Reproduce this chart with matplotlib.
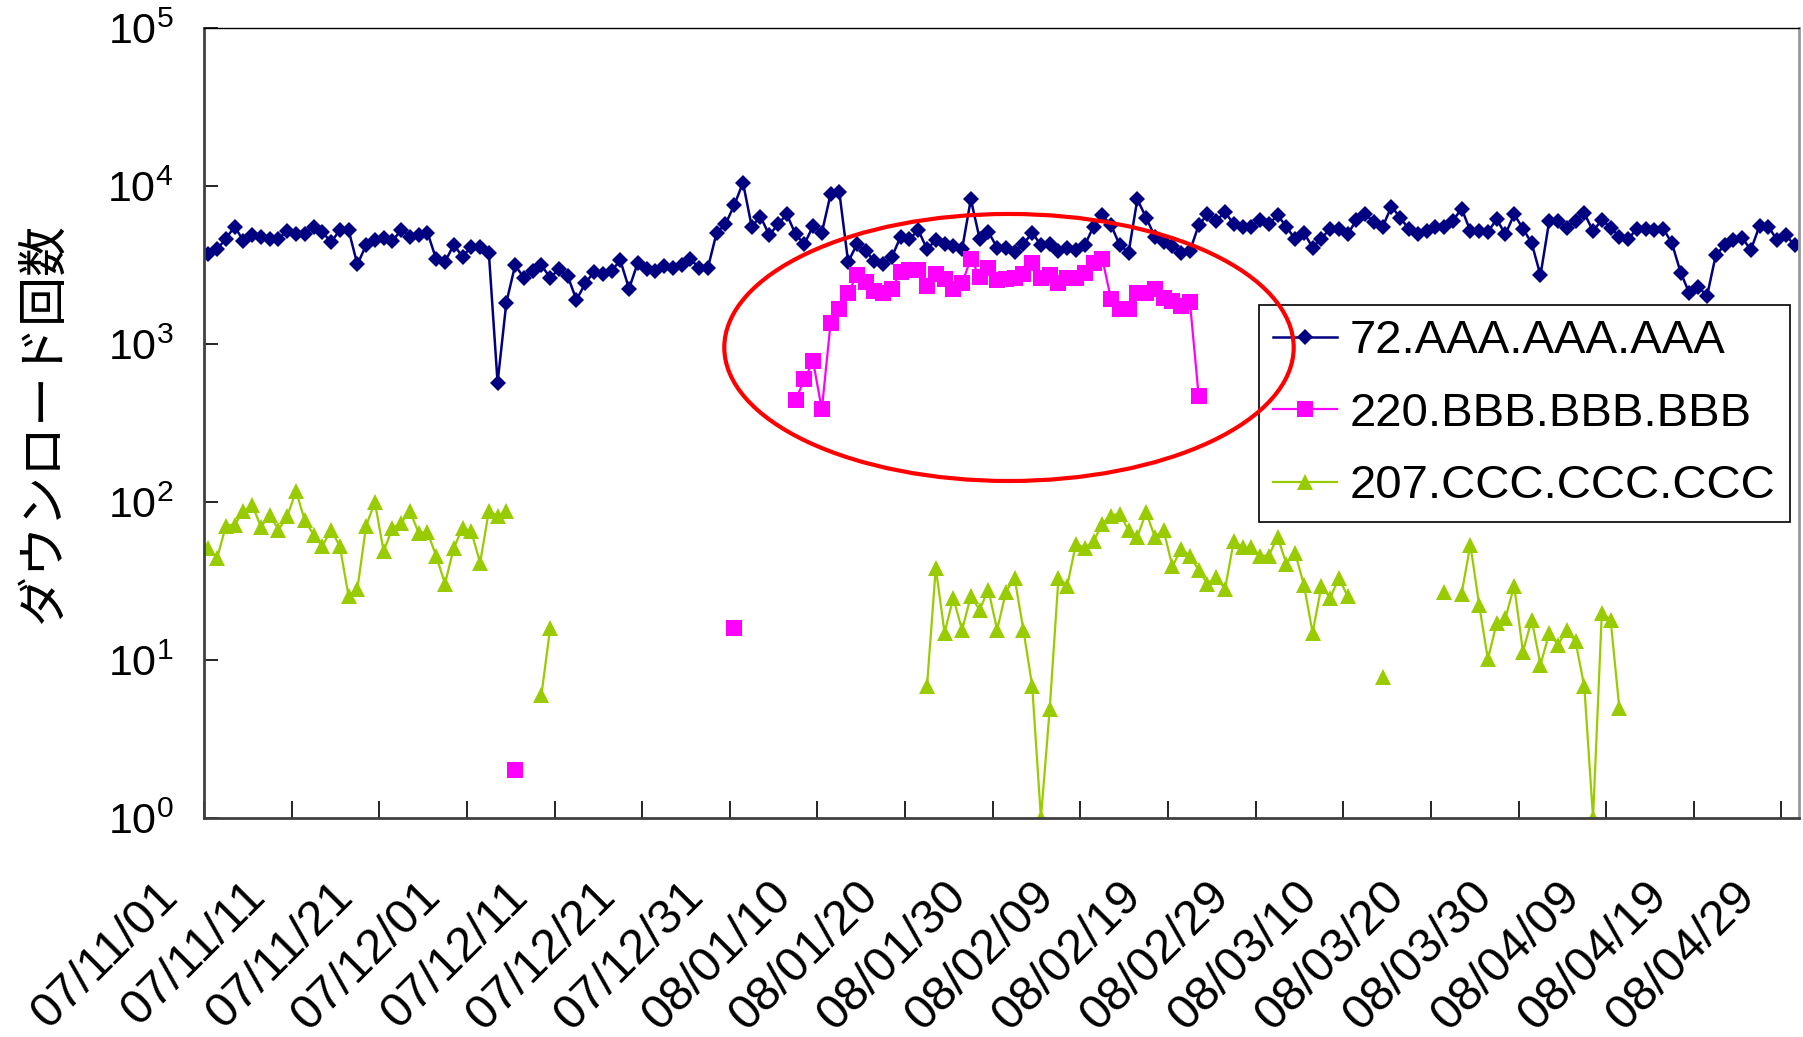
import numpy as np
import matplotlib
matplotlib.use('Agg')
import matplotlib.pyplot as plt
from matplotlib.patches import Ellipse
from matplotlib.ticker import NullLocator
from matplotlib.transforms import ScaledTranslation

plt.rcParams['font.family'] = ['Liberation Sans', 'Noto Sans CJK JP', 'DejaVu Sans']
plt.rcParams['mathtext.fontset'] = 'custom'
plt.rcParams['mathtext.rm'] = 'Liberation Sans'
plt.rcParams['mathtext.default'] = 'regular'

# one category per day, 07/11/01 .. 08/04/30
N_DAYS = 182
date_labels = ['07/11/01', '07/11/11', '07/11/21', '07/12/01', '07/12/11', '07/12/21',
               '07/12/31', '08/01/10', '08/01/20', '08/01/30', '08/02/09', '08/02/19',
               '08/02/29', '08/03/10', '08/03/20', '08/03/30', '08/04/09', '08/04/19',
               '08/04/29']

series_names = ['72.AAA.AAA.AAA', '220.BBB.BBB.BBB', '207.CCC.CCC.CCC']

# daily download counts, (first day index, values) per unbroken run
aaa_runs = [(0, [3700, 3980, 4650, 5540, 4490, 4880, 4790, 4650, 4650, 5190,
                 4950, 4950, 5540, 5120, 4420, 5250, 5250, 3190, 4220, 4550,
                 4720, 4490, 5270, 4790, 4880, 5070, 3440, 3320, 4240, 3570,
                 4130, 4130, 3790, 569, 1830, 3150, 2630, 2900, 3150, 2630,
                 2970, 2690, 1900, 2420, 2860, 2760, 2900, 3390, 2240, 3270,
                 2970, 2900, 3120, 3040, 3150, 3440, 3040, 3040, 5070, 5730,
                 7550, 10500, 5540, 6410, 4880, 5730, 6620, 4950, 4280, 5590,
                 5070, 8870, 9100, 3300, 4280, 3880, 3350, 3190, 3570, 4790,
                 4600, 5270, 3980, 4550, 4280, 4170, 3980, 8240, 4650, 5120,
                 4080, 4050, 3810, 4280, 5070, 4220, 4280, 3880, 4080, 3940,
                 4220, 5540, 6530, 5650, 4220, 3790, 8240, 6310, 4790, 4390,
                 4170, 3790, 3880, 5650, 6620, 6010, 6850, 5730, 5540, 5540,
                 6100, 5730, 6530, 5540, 4600, 5070, 4080, 4650, 5380, 5380,
                 4950, 6100, 6620, 5920, 5540, 7410, 6310, 5320, 4980, 5190,
                 5540, 5540, 6010, 7200, 5190, 5190, 5120, 6160, 4950, 6620,
                 5380, 4340, 2720, 6010, 6010, 5460, 6010, 6720, 5190, 6100,
                 5460, 4790, 4600, 5380, 5380, 5270, 5380, 4340, 2830, 2090,
                 2310, 2010, 3640, 4220, 4550, 4720, 3940, 5590, 5540, 4550,
                 4880, 4220])]

bbb_runs = [(35, [2]),
            (60, [16]),
            (67, [441, 597, 776, 385, 1365, 1675, 2110, 2720, 2470, 2160,
                  2110, 2240, 2860, 2940, 2940, 2330, 2760, 2570, 2220, 2420,
                  3470, 2670, 3040, 2540, 2560, 2600, 2760, 3270, 2630, 2720,
                  2440, 2630, 2630, 2830, 3270, 3470, 1920, 1675, 1675, 2090,
                  2090, 2240, 1965, 1870, 1740, 1840, 468])]

ccc_runs = [(0, [51.2, 44.2, 70.8, 71.9, 87.3, 96, 69.5, 83.2, 66.8, 81.1,
                 117, 76.6, 62.1, 52.4, 66.8, 52.4, 25.3, 28.1, 70.8, 99.6,
                 48.7, 68.5, 73.7, 87.3, 63.7, 64.6, 45.3, 30.4, 51.2, 68.5,
                 65.3, 41.1, 87.3, 82, 87.3]),
            (38, [6.0, 15.9]),
            (82, [6.87, 38.2, 14.9, 24.7, 15.5, 25.3, 20.8, 27.9, 15.5, 27,
                  33, 15.5, 6.87, 1, 4.89, 33, 29.5, 54.5, 51.2, 56.4,
                  72.9, 82, 84.4, 66.2, 60.1, 86.1, 60.1, 66.2, 39.1, 50.4,
                  45.7, 36.9, 30.4, 33.5, 28.1, 56.4, 51.9, 51.9, 45.7, 45.7,
                  60.1, 40.7, 47.6, 30.0, 14.9, 29.2, 24.7, 33, 25.3]),
            (134, [7.8]),
            (141, [26.8]),
            (143, [26.3, 53.7, 22.4, 10.1, 17.1, 18.4, 29.5, 11.3, 18.0, 9.33,
                   14.8, 12.5, 15.5, 13.1, 6.8, 1, 19.8, 18.0, 4.96])]


def expand(runs):
    # missing days stay NaN so the line breaks there
    arr = np.full(N_DAYS, np.nan)
    for start, vals in runs:
        arr[start:start + len(vals)] = vals
    return arr


def draw():
    fig = plt.figure(figsize=(18.03, 10.37), dpi=100)
    ax = fig.add_axes([204 / 1803, 219 / 1037, 1595 / 1803, 790 / 1037])
    days = np.arange(N_DAYS)

    ax.plot(days, expand(aaa_runs), color='#000080', lw=1.8, marker='D', ms=8.5,
            mew=0, label=series_names[0])
    ax.plot(days, expand(bbb_runs), color='#FF00FF', lw=1.6, marker='s', ms=11.5,
            mew=0, label=series_names[1])
    ax.plot(days, expand(ccc_runs), color='#99CC00', lw=1.6, marker='^', ms=11,
            mew=0, label=series_names[2])

    ax.set_yscale('log')
    ax.set_ylim(1, 1e5)
    ax.set_yticks([10 ** k for k in range(6)])
    ax.set_yticklabels(['$10^{%d}$' % k for k in range(6)], fontsize=31)
    ax.yaxis.set_minor_locator(NullLocator())
    ax.tick_params(axis='y', direction='in', length=10, width=1.2, pad=22)

    ax.set_xlim(-0.5, N_DAYS - 0.5)
    # tick marks between categories, labels on the day itself
    ax.set_xticks(np.arange(-0.5, N_DAYS - 1, 10))
    ax.set_xticklabels([])
    ax.tick_params(axis='x', which='major', direction='in', length=12, width=1.2)
    ax.set_xticks(np.arange(0, N_DAYS, 10), minor=True)
    ax.set_xticklabels(date_labels, minor=True, rotation=45, ha='right', va='top',
                       fontsize=35)
    ax.tick_params(axis='x', which='minor', length=0, pad=40)
    shift = ScaledTranslation(-0.22, 0, fig.dpi_scale_trans)
    for lbl in ax.get_xticklabels(minor=True):
        lbl.set_transform(lbl.get_transform() + shift)

    ax.spines['left'].set(color='#404040', linewidth=2)
    ax.spines['bottom'].set(color='#404040', linewidth=2)
    ax.spines['top'].set(color='black', linewidth=1)
    ax.spines['right'].set(color='#999999', linewidth=2)

    fig.text(44 / 1803, 1 - 423 / 1037, 'ダウンロード回数', rotation=90,
             ha='center', va='center', fontsize=36, family=['Noto Sans CJK JP'])

    leg = ax.legend(loc='upper left', bbox_to_anchor=(0.6614, 0.649), fontsize=34,
                    fancybox=False, edgecolor='black', framealpha=1, borderpad=0.3,
                    labelspacing=0.6, handlelength=1.36, handletextpad=0.27,
                    borderaxespad=0)
    leg.get_frame().set_linewidth(1.2)

    ring = Ellipse((0.5047, 0.5956), 0.357, 0.338, transform=ax.transAxes,
                   fill=False, edgecolor='#FF0000', lw=3, zorder=10, clip_on=False)
    ax.add_patch(ring)

    fig.savefig('out.png', dpi=100)


if __name__ == '__main__':
    draw()
